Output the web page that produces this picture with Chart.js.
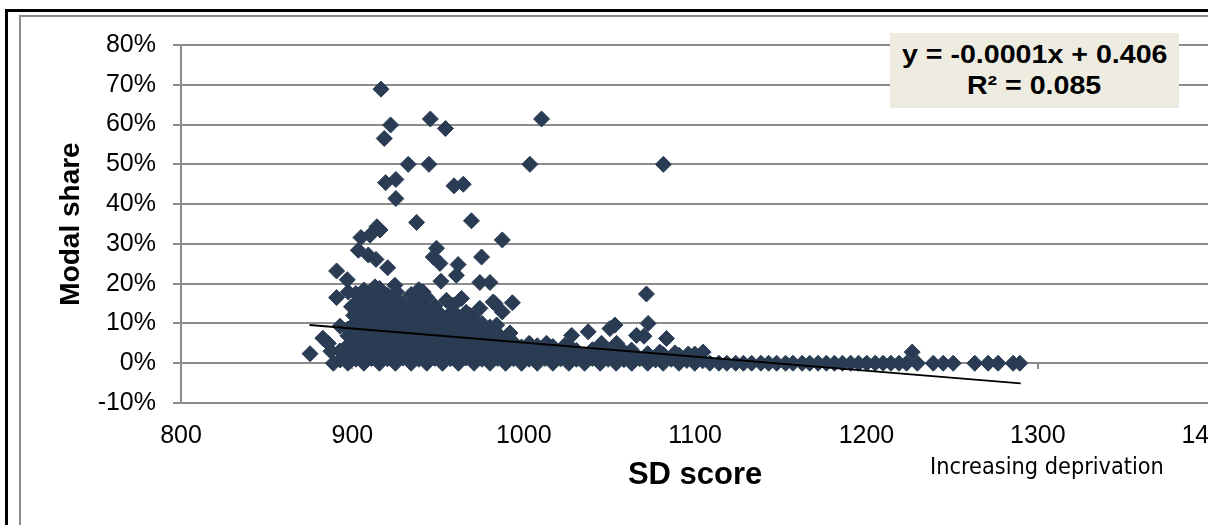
<!DOCTYPE html>
<html>
<head>
<meta charset="utf-8">
<script src="https://cdn.jsdelivr.net/npm/chart.js@4.4.1/dist/chart.umd.min.js"></script>
<style>
  html, body { margin: 0; padding: 0; background: #fff; overflow: hidden; width: 1208px; height: 525px; }
  #frame { position: absolute; left: 5px; top: 9px; width: 1400px; height: 700px; border: 3px solid #000; box-sizing: border-box; }
  #area { position: absolute; left: 19px; top: 15px; width: 1400px; height: 700px; border: 2px solid #8c8c8c; box-sizing: border-box; }
  #chart { position: absolute; left: 0; top: 0; }
  #eq { position: absolute; left: 890px; top: 33px; width: 289px; height: 75px; background: #eeece1;
        font: bold 26px 'Liberation Sans', Arial, sans-serif; color: #000; text-align: center;
        line-height: 31px; padding-top: 6px; box-sizing: border-box; }
  #eq span { display: inline-block; transform: scaleX(1.1); }
  #note { position: absolute; left: 930px; top: 455px; font: 23px 'DejaVu Sans', sans-serif; line-height: 23px;
          white-space: nowrap; color: #000; transform: scaleX(0.91); transform-origin: left center; }
</style>
</head>
<body>
<div id="frame"></div>
<div id="area"></div>
<canvas id="chart" width="1255" height="525"></canvas>
<div id="eq"><span>y = -0.0001x + 0.406</span><br><span>R² = 0.085</span></div>
<div id="note">Increasing deprivation</div>
<script>
// Axis ticks
const scoreTicks = [800, 900, 1000, 1100, 1200, 1300, 1400];
const shareTicks = [-10, 0, 10, 20, 30, 40, 50, 60, 70, 80];

// Areas with a high modal share: [SD score, share %]
const upperPoints = [
  [916.7, 68.9], [922.3, 59.9], [918.6, 56.5], [945.5, 61.4], [954.3, 59.0],
  [932.6, 50.0], [944.7, 50.0], [919.4, 45.4], [925.4, 46.2], [959.3, 44.6],
  [964.7, 45.0], [925.4, 41.4], [937.5, 35.4], [969.5, 35.8], [916.1, 33.5],
  [914.3, 34.3], [910.3, 32.2], [905.0, 31.6], [1010.4, 61.4], [1003.6, 50.0],
  [1081.5, 50.0], [987.5, 31.0], [903.5, 28.4], [909.3, 27.2], [913.8, 26.1],
  [920.6, 24.0], [890.8, 23.2], [897.0, 21.0], [949.1, 28.9], [947.2, 26.7],
  [951.1, 25.1], [975.4, 26.7], [961.7, 24.8], [960.7, 22.1], [951.7, 20.6],
  [974.4, 20.3], [980.3, 20.3], [1071.6, 17.4]
];

// Scattered areas between roughly 2% and 20%
const midPoints = [
  [890.8, 16.5], [897.6, 17.9], [899.5, 14.2], [900.8, 12.0], [892.8, 9.3],
  [925.8, 17.9], [941.3, 17.9], [938.4, 15.8], [954.9, 15.8], [963.7, 16.3],
  [958.9, 14.6], [950.1, 12.9], [974.4, 13.8], [982.2, 15.4], [968.6, 12.1],
  [932.6, 10.8], [943.3, 10.8], [956.9, 10.4], [984.2, 9.6], [992.0, 7.6],
  [983.2, 15.0], [993.4, 15.2], [987.5, 12.9], [913.2, 19.2], [924.8, 19.6],
  [1013.3, 5.0], [1024.0, 4.5], [1028.0, 7.0], [1037.6, 7.9], [1045.4, 5.0],
  [1050.3, 8.7], [1053.2, 9.6], [1054.2, 5.0], [1062.9, 3.3], [1065.8, 7.0],
  [1070.2, 6.8], [1072.6, 10.0], [1079.4, 2.8], [1083.3, 6.2], [1088.2, 2.6],
  [1096.0, 2.3], [1104.7, 2.8], [1226.7, 2.8],
  [875.3, 2.4], [882.8, 6.3], [886.0, 5.0], [887.5, 3.0]
];

// Dense group of low-share areas: [SD score, shares %]
const clusterColumns = [
  [888.9, [0]],
  [892.8, [0.8, 3.1]],
  [897.4, [0, 2.2, 4.5, 6.9, 8.6]],
  [902.0, [1.0, 3.4, 5.6, 7.9, 10.3, 12.6, 14.8, 17.5]],
  [906.7, [0, 2.3, 4.4, 6.7, 9.1, 11.4, 13.7, 16.2, 18.4]],
  [911.2, [1.2, 3.5, 5.8, 8.0, 10.2, 12.5, 15.0, 17.2]],
  [915.8, [0, 2.1, 4.6, 6.9, 9.0, 11.6, 13.9, 16.0, 18.8]],
  [920.5, [1.1, 3.2, 5.4, 7.8, 10.0, 12.3, 14.6, 17.0]],
  [925.1, [0, 2.5, 4.7, 6.8, 9.4, 11.5, 13.6, 16.4]],
  [929.6, [1.3, 3.6, 5.7, 8.1, 10.6, 12.8, 15.1]],
  [934.3, [0, 2.2, 4.5, 7.0, 9.2, 11.1, 14.0, 17.3]],
  [938.8, [1.0, 3.3, 5.9, 8.3, 10.4, 12.6, 18.5]],
  [943.4, [0, 2.4, 4.6, 6.5, 9.5, 11.9, 13.8, 16.6]],
  [948.1, [1.2, 3.5, 5.6, 7.7, 10.1, 12.2, 14.4]],
  [952.6, [0, 2.3, 4.2, 6.8, 9.0, 11.3]],
  [957.2, [1.1, 3.4, 5.5, 8.2, 12.5]],
  [961.9, [0, 2.2, 4.8, 6.6, 9.3, 11.7]],
  [966.4, [1.3, 3.6, 5.7, 7.9, 10.3, 12.8]],
  [971.0, [0, 2.1, 4.4, 6.9, 9.2, 11.2]],
  [975.7, [1.0, 3.2, 5.3, 7.6, 10.0]],
  [980.3, [0, 2.5, 4.6, 6.8, 9.1]],
  [984.9, [1.2, 3.4, 5.5, 7.4]],
  [989.4, [0, 2.3, 4.7, 6.5]],
  [994.1, [1.1, 3.0, 5.2]],
  [998.7, [0, 2.2, 4.1]]
];

// Thin band of very low shares
const bandColumns = [
  [1003.2, [1.0, 3.1, 5.0]], [1007.9, [0, 2.4, 4.4]], [1012.4, [1.2, 3.3]],
  [1017.0, [0, 2.0, 4.2]], [1021.6, [1.1, 3.0]], [1026.3, [0, 2.2, 4.5]],
  [1030.8, [1.0, 3.2]], [1035.5, [0, 2.1]], [1040.1, [1.2, 3.4]],
  [1044.6, [0, 2.0]], [1049.3, [1.0, 3.1]], [1053.9, [0, 2.3]],
  [1058.5, [0.9, 2.9]], [1063.0, [0, 2.1]], [1067.7, [1.1]],
  [1072.3, [0, 2.4]], [1076.9, [0.8]], [1081.4, [0, 2.2]],
  [1086.1, [1.0]], [1090.6, [0, 2.0]], [1095.2, [0.7]], [1099.8, [0, 2.3]],
  [1104.4, [0.6]]
];

// Most deprived areas, all with a zero share
const zeroTail = [
  1108.6, 1113.9, 1118.5, 1123.7, 1128.2, 1133.0, 1138.4, 1142.9, 1147.6, 1152.8,
  1157.1, 1162.5, 1166.9, 1171.8, 1176.6, 1181.3, 1186.0, 1190.8, 1195.4, 1200.2,
  1205.1, 1209.7, 1214.3, 1219.0, 1223.4, 1229.7, 1239.0, 1244.8, 1250.6, 1263.2,
  1271.0, 1276.8, 1285.6, 1289.5
];

// Linear trend fitted to the points
const trendScores = [875, 1290];
const trendSlope = -0.000354;
const trendIntercept = 0.406;

const pairsToPoints = list => list.map(([x, y]) => ({ x, y }));
const columnsToPoints = cols => cols.flatMap(([x, ys]) => ys.map(y => ({ x, y })));

const areaPoints = [
  ...pairsToPoints(upperPoints),
  ...pairsToPoints(midPoints),
  ...columnsToPoints(clusterColumns),
  ...columnsToPoints(bandColumns),
  ...zeroTail.map(x => ({ x, y: 0 }))
];
const trendPoints = trendScores.map(x => ({ x, y: 100 * (trendIntercept + trendSlope * x) }));

const FONT = "'Liberation Sans', Arial, sans-serif";
const GRID = '#8c8c8c';
const MARK = '#2a3c53';
const PAD_LEFT = 54;

// Small tick marks on the horizontal axis line that crosses at 0%
const zeroAxisTicks = {
  id: 'zeroAxisTicks',
  beforeDatasetsDraw(chart) {
    const { ctx, scales: { x, y } } = chart;
    const y0 = Math.round(y.getPixelForValue(0));
    ctx.save();
    ctx.strokeStyle = GRID;
    ctx.lineWidth = 2;
    x.ticks.forEach(t => {
      const px = Math.round(x.getPixelForValue(t.value));
      ctx.beginPath();
      ctx.moveTo(px, y0);
      ctx.lineTo(px, y0 + 6);
      ctx.stroke();
    });
    ctx.restore();
  }
};

new Chart(document.getElementById('chart'), {
  type: 'scatter',
  data: {
    datasets: [
      {
        data: trendPoints,
        showLine: true,
        borderColor: '#000',
        borderWidth: 2,
        pointRadius: 0,
        fill: false
      },
      {
        data: areaPoints,
        pointStyle: 'rectRot',
        pointRadius: 8,
        backgroundColor: MARK,
        borderColor: MARK,
        borderWidth: 1
      }
    ]
  },
  options: {
    responsive: false,
    animation: false,
    events: [],
    layout: { padding: { left: PAD_LEFT, top: 45, right: 41, bottom: 31 } },
    plugins: { legend: { display: false }, tooltip: { enabled: false } },
    scales: {
      x: {
        type: 'linear',
        min: scoreTicks[0],
        max: scoreTicks[scoreTicks.length - 1],
        afterFit(s) { s.height = 91; },
        afterBuildTicks(s) { s.ticks = scoreTicks.map(value => ({ value })); },
        grid: { display: false, drawTicks: false },
        border: { display: false },
        ticks: {
          padding: 18, color: '#000', font: { family: FONT, size: 25 },
          maxRotation: 0, autoSkip: false, callback: v => String(v)
        },
        title: {
          display: true, text: 'SD score', color: '#000',
          font: { family: FONT, size: 31, weight: 'bold' }, padding: { top: 0, bottom: 0 }
        }
      },
      y: {
        min: shareTicks[0],
        max: shareTicks[shareTicks.length - 1],
        afterFit(s) { s.width = 181 - PAD_LEFT; },
        afterBuildTicks(s) { s.ticks = shareTicks.map(value => ({ value })); },
        grid: { color: GRID, lineWidth: 2, tickLength: 8, drawTicks: true },
        border: { color: GRID, width: 2 },
        ticks: { padding: 17, color: '#000', font: { family: FONT, size: 25 }, callback: v => v + '%' },
        title: {
          display: true, text: 'Modal share', color: '#000',
          font: { family: FONT, size: 28, weight: 'bold' }, padding: { top: 0, bottom: 0 }
        }
      }
    }
  },
  plugins: [zeroAxisTicks]
});
</script>
</body>
</html>
